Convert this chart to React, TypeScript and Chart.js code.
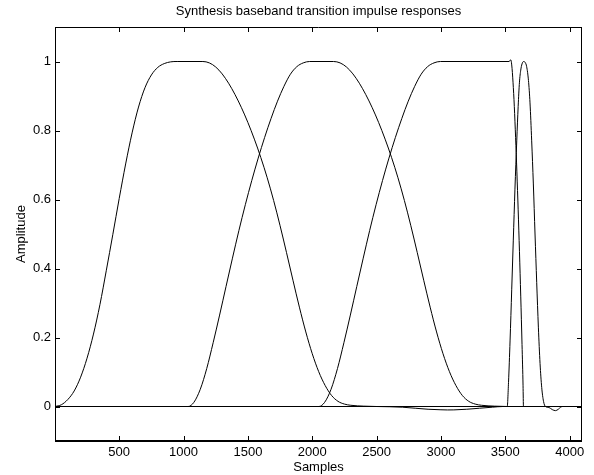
import React, { useEffect, useRef } from 'react';
import { Chart, registerables } from 'chart.js';

Chart.register(...registerables);

const FONT = "'Liberation Sans', Arial, Helvetica, sans-serif";

const titleText = 'Synthesis baseband transition impulse responses';
const xLabel = 'Samples';
const yLabel = 'Amplitude';

const xTicks = [500, 1000, 1500, 2000, 2500, 3000, 3500, 4000];
const yTicks = [0, 0.2, 0.4, 0.6, 0.8, 1];
const yTickLabels = ['0', '0.2', '0.4', '0.6', '0.8', '1'];

const curve1X = [1, 50, 100, 150, 200, 250, 300, 350, 400, 450, 500, 550, 600, 650, 700, 750, 800, 850, 900, 950, 1150, 1200, 1250, 1300, 1350, 1400, 1450, 1500, 1550, 1600, 1650, 1700, 1750, 1800, 1850, 1900, 1950, 2000, 2050, 2100, 2150, 2200, 2250, 2300, 2400, 2500, 2600, 2700, 2800, 2900, 3000, 3050, 3100, 3200, 3300, 3400, 3480, 4096];
const curve1Y = [0, 0.005, 0.02, 0.045, 0.085, 0.14, 0.21, 0.295, 0.395, 0.498, 0.603, 0.703, 0.793, 0.868, 0.924, 0.961, 0.983, 0.994, 0.999, 1.0, 1.0, 0.996, 0.984, 0.964, 0.937, 0.904, 0.866, 0.823, 0.775, 0.722, 0.663, 0.597, 0.524, 0.446, 0.366, 0.288, 0.216, 0.153, 0.101, 0.061, 0.032, 0.015, 0.007, 0.0035, 0.001, 0, -0.0007, -0.002, -0.005, -0.008, -0.0095, -0.01, -0.0098, -0.008, -0.005, -0.002, 0, 0];

const curve2X = [1, 1036, 1080, 1130, 1180, 1230, 1280, 1330, 1380, 1430, 1480, 1530, 1580, 1630, 1680, 1730, 1780, 1830, 1880, 1930, 1980, 2166, 2216, 2266, 2316, 2366, 2416, 2466, 2516, 2566, 2616, 2666, 2716, 2766, 2816, 2866, 2916, 2966, 3016, 3066, 3116, 3166, 3216, 3266, 3316, 3416, 3516, 4096];
const curve2Y = [0, 0, 0.012, 0.05, 0.11, 0.185, 0.265, 0.348, 0.43, 0.51, 0.585, 0.655, 0.72, 0.78, 0.835, 0.885, 0.928, 0.963, 0.985, 0.996, 1.0, 1.0, 0.996, 0.984, 0.964, 0.937, 0.904, 0.866, 0.823, 0.775, 0.722, 0.663, 0.597, 0.524, 0.446, 0.366, 0.288, 0.216, 0.153, 0.101, 0.061, 0.032, 0.015, 0.007, 0.0035, 0.001, 0, 0];

const curve3X = [1, 2052, 2096, 2146, 2196, 2246, 2296, 2346, 2396, 2446, 2496, 2546, 2596, 2646, 2696, 2746, 2796, 2846, 2896, 2946, 2996, 3530, 3542, 3550, 3560, 3570, 3580, 3590, 3600, 3610, 3620, 3630, 3638, 3641, 3642, 4096];
const curve3Y = [0, 0, 0.012, 0.05, 0.11, 0.185, 0.265, 0.348, 0.43, 0.51, 0.585, 0.655, 0.72, 0.78, 0.835, 0.885, 0.928, 0.963, 0.985, 0.996, 1.0, 1.0, 1.005, 0.99, 0.94, 0.87, 0.78, 0.68, 0.57, 0.45, 0.32, 0.18, 0.06, 0, 0, 0];

const curve4X = [1, 3515, 3525, 3537, 3550, 3562, 3575, 3589, 3600, 3610, 3620, 3630, 3642, 3655, 3666, 3680, 3692, 3705, 3718, 3731, 3744, 3757, 3770, 3783, 3797, 3812, 3840, 3865, 3890, 3912, 3930, 3945, 4096];
const curve4Y = [0, 0, 0.07, 0.19, 0.34, 0.48, 0.63, 0.77, 0.87, 0.94, 0.975, 0.993, 1.0, 0.997, 0.985, 0.945, 0.88, 0.77, 0.645, 0.5, 0.36, 0.23, 0.125, 0.055, 0.015, 0, -0.003, -0.009, -0.012, -0.008, -0.002, 0, 0];

const seriesX = [curve1X, curve2X, curve3X, curve4X];
const seriesY = [curve1Y, curve2Y, curve3Y, curve4Y];

const framePlugin = {
  id: 'matlabFrame',
  afterDraw(chart: any) {
    const { ctx, chartArea: a, scales } = chart;
    const L = Math.round(a.left);
    const R = Math.round(a.right);
    const T = Math.round(a.top);
    const B = Math.round(a.bottom);
    ctx.save();
    ctx.strokeStyle = '#000';
    ctx.lineWidth = 1;
    ctx.beginPath();
    ctx.moveTo(L + 0.5, T);
    ctx.lineTo(L + 0.5, B);
    ctx.moveTo(R - 0.5, T);
    ctx.lineTo(R - 0.5, B);
    ctx.moveTo(L, T + 0.5);
    ctx.lineTo(R, T + 0.5);
    xTicks.forEach((v) => {
      const x = Math.round(scales.x.getPixelForValue(v)) + 0.5;
      ctx.moveTo(x, B);
      ctx.lineTo(x, B - 5);
      ctx.moveTo(x, T);
      ctx.lineTo(x, T + 5);
    });
    yTicks.forEach((v) => {
      const y = Math.round(scales.y.getPixelForValue(v)) + 0.5;
      ctx.moveTo(L, y);
      ctx.lineTo(L + 5, y);
      ctx.moveTo(R, y);
      ctx.lineTo(R - 5, y);
    });
    ctx.stroke();
    ctx.fillStyle = '#000';
    ctx.fillRect(L, B - 1, R - L, 2);
    ctx.restore();
  },
};

export default function App() {
  const ref = useRef<HTMLCanvasElement>(null);

  useEffect(() => {
    const canvas = ref.current;
    if (!canvas) return;
    const font = { family: FONT, size: 13, weight: 'normal' as const, lineHeight: 1.2 };
    const datasets = seriesX.map((xs, i) => ({
      data: xs.map((x, j) => ({ x, y: seriesY[i][j] })),
      borderColor: '#000',
      borderWidth: 1,
      pointRadius: 0,
      fill: false,
      cubicInterpolationMode: 'monotone' as const,
    }));
    const chart = new Chart(canvas, {
      type: 'line',
      data: { datasets },
      options: {
        animation: false,
        responsive: false,
        devicePixelRatio: 1,
        layout: { padding: { left: 0, right: 12, top: 0, bottom: 0 } },
        plugins: {
          legend: { display: false },
          tooltip: { enabled: false },
          title: {
            display: true,
            text: titleText,
            color: '#000',
            fullSize: false,
            font,
            padding: { top: 4, bottom: 7.4 },
          },
        },
        scales: {
          x: {
            type: 'linear',
            min: 1,
            max: 4096,
            afterBuildTicks: (axis: any) => {
              axis.ticks = xTicks.map((v) => ({ value: v }));
            },
            afterFit: (axis: any) => {
              axis.height = 34;
            },
            ticks: {
              color: '#000',
              font,
              padding: 4,
              autoSkip: false,
              maxRotation: 0,
              minRotation: 0,
              callback: (v: any) => String(v),
            },
            grid: { display: false, drawTicks: false },
            border: { display: false },
            title: {
              display: true,
              text: xLabel,
              color: '#000',
              font,
              padding: { top: 0, bottom: 0 },
            },
          },
          y: {
            type: 'linear',
            min: -0.1,
            max: 1.1,
            afterBuildTicks: (axis: any) => {
              axis.ticks = yTicks.map((v) => ({ value: v }));
            },
            afterFit: (axis: any) => {
              axis.width = 55;
            },
            ticks: {
              color: '#000',
              font,
              padding: 4,
              autoSkip: false,
              callback: (_v: any, i: number) => yTickLabels[i],
            },
            grid: { display: false, drawTicks: false },
            border: { display: false },
            title: {
              display: true,
              text: yLabel,
              color: '#000',
              font,
              padding: { top: 14, bottom: 0 },
            },
          },
        },
      },
      plugins: [framePlugin],
    });
    return () => chart.destroy();
  }, []);

  return (
    <div style={{ position: 'absolute', left: 0, top: 0, width: 594, height: 475, background: '#fff' }}>
      <canvas ref={ref} width={594} height={475} style={{ display: 'block', width: 594, height: 475 }} />
    </div>
  );
}
